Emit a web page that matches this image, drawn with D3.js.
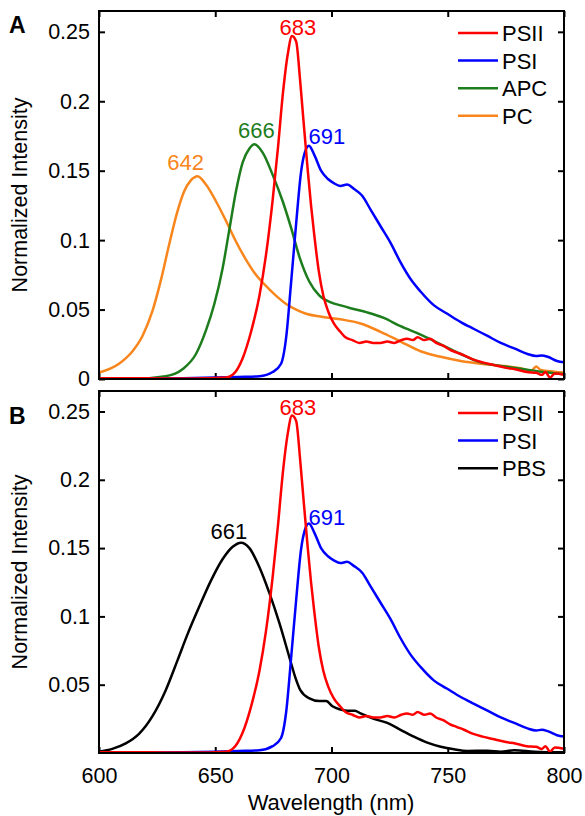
<!DOCTYPE html>
<html><head><meta charset="utf-8">
<script src="https://cdn.jsdelivr.net/npm/d3@7"></script>
<style>
html,body{margin:0;padding:0;background:#fff;}
svg text{font-family:"Liberation Sans",Arial,sans-serif;}
</style></head>
<body><svg id="chart" width="585" height="816"></svg>
<script>
// ---------- data (wavelength nm, normalized intensity) ----------
const psii = [[600,0.0005],[620,0.0005],[640,0.0003],[654.6,0.001],[657.5,0.003],[661.8,0.015],[665.4,0.034],[669,0.060],[671.8,0.089],[674.7,0.129],[677,0.167],[679,0.204],[681.2,0.234],[683,0.247],[684.8,0.243],[686.5,0.215],[688,0.185],[689.8,0.150],[691.2,0.125],[692.5,0.105],[694.5,0.078],[696.5,0.060],[698.5,0.049],[701,0.040],[703.8,0.034],[706,0.030],[709,0.028],[712,0.026],[715,0.027],[718,0.026],[721,0.026],[724,0.027],[727,0.026],[730,0.028],[732.5,0.029],[735,0.028],[737,0.030],[740,0.028],[742.5,0.029],[745,0.026],[748,0.024],[751,0.021],[754,0.019],[757,0.017],[761,0.014],[765,0.012],[770,0.010],[775,0.008],[779,0.007],[784,0.005],[788,0.0045],[790.5,0.003],[792,0.005],[794,0.001],[796,0.004],[800,0.003]];
const psi = [[600,0],[636,0.0005],[650,0.001],[660,0.0015],[669,0.002],[674.7,0.005],[678.3,0.011],[680.5,0.030],[682.6,0.069],[684.8,0.112],[686.9,0.149],[688.5,0.163],[690.3,0.168],[692.7,0.161],[695.5,0.150],[698.5,0.144],[701,0.141],[703.8,0.139],[706.7,0.140],[709.6,0.137],[713.2,0.132],[716.8,0.122],[721.1,0.110],[725.4,0.098],[729.7,0.084],[734,0.072],[738.3,0.063],[744.1,0.053],[749.8,0.047],[755.6,0.041],[761.3,0.036],[767.1,0.031],[772.8,0.026],[778.6,0.022],[784.3,0.018],[788,0.0165],[790.5,0.017],[793,0.016],[797,0.013],[800,0.012]];
const apc = [[600,0],[614,0],[628.7,0.002],[635.9,0.007],[641.7,0.018],[646,0.035],[649.6,0.054],[653.2,0.080],[656,0.107],[658.9,0.135],[661.8,0.156],[664.7,0.166],[666.8,0.169],[670.4,0.163],[674.7,0.147],[679,0.128],[682.6,0.109],[686.2,0.088],[690.5,0.070],[694.8,0.060],[700,0.055],[704,0.053],[708.2,0.051],[715.3,0.048],[722.5,0.044],[729.7,0.038],[738.3,0.032],[747,0.025],[755.6,0.018],[764.2,0.012],[772.8,0.0094],[781.4,0.0074],[790,0.0053],[800,0.0036]];
const pc = [[600,0.0046],[608.6,0.011],[614.4,0.020],[618.7,0.031],[623,0.049],[626.6,0.071],[630.2,0.097],[633.8,0.121],[636.6,0.135],[639.5,0.143],[642.4,0.146],[646,0.140],[650.3,0.128],[654.6,0.114],[658.9,0.099],[663.2,0.086],[667.5,0.075],[671.8,0.067],[676.1,0.060],[680.5,0.054],[684.8,0.050],[689.1,0.047],[695.2,0.045],[703.8,0.043],[712.5,0.040],[721.1,0.034],[729.7,0.027],[738.3,0.020],[747,0.016],[755.6,0.013],[764.2,0.011],[772.8,0.0096],[781.4,0.0077],[786,0.006],[788,0.009],[790,0.0065],[795.8,0.0053],[800,0.0046]];
const pbs = [[600,0.001],[605.7,0.003],[611.5,0.007],[617.2,0.014],[623,0.027],[628.7,0.046],[633.8,0.068],[638.1,0.087],[643.1,0.107],[648.1,0.126],[653.2,0.142],[657.5,0.151],[661.1,0.154],[664.7,0.150],[669,0.136],[673.3,0.117],[677.6,0.095],[681.9,0.070],[684.5,0.055],[686.6,0.046],[690.5,0.040],[694.8,0.038],[697.7,0.038],[700.6,0.034],[703.4,0.032],[706.7,0.031],[710,0.031],[712.5,0.029],[718.2,0.025],[724,0.022],[729.7,0.017],[735.4,0.012],[741.2,0.0076],[747,0.0046],[752.7,0.0027],[758.4,0.0015],[767.1,0.0017],[772.8,0.001],[778.6,0.002],[787.2,0.001],[800,0.0005]];

const seriesNamesA = ["PSII","PSI","APC","PC"];
const seriesNamesB = ["PSII","PSI","PBS"];
const peakLabelsA = ["683","691","666","642"];
const peakLabelsB = ["683","691","661"];
const xTicks = [600,650,700,750,800];
const yTicksA = [0,0.05,0.1,0.15,0.2,0.25];
const yTicksB = [0.05,0.1,0.15,0.2,0.25];
const xDomain = [600,800];
const yDomain = [0,0.265];

// ---------- styles ----------
const dataByName = {PSII:psii, PSI:psi, APC:apc, PC:pc, PBS:pbs};
const colorByName = {PSII:"#ff0000", PSI:"#0000ff", APC:"#1d7d1d", PC:"#f8861c", PBS:"#000000"};
// label offsets relative to peak point (px)
const labelOffset = {
  "A683":{dx:6,dy:-1,anchor:"middle"}, "A691":{dx:-2,dy:-2,anchor:"start"},
  "A666":{dx:4,dy:-6,anchor:"middle"}, "A642":{dx:-11,dy:-6,anchor:"middle"},
  "B683":{dx:6,dy:-1,anchor:"middle"}, "B691":{dx:-2,dy:1,anchor:"start"},
  "B661":{dx:-12,dy:-4,anchor:"middle"}
};

const svg = d3.select("#chart");
const FS = 21.5;

function panel(cfg){
  const {left,right,top,bottom,names,peaks,yTicks,showX,tag,letterY} = cfg;
  const x = d3.scaleLinear().domain(xDomain).range([left,right]);
  const y = d3.scaleLinear().domain(yDomain).range([bottom,top]);
  const g = svg.append("g");

  const ax = g.append("g").attr("transform",`translate(0,${bottom})`)
    .call(d3.axisBottom(x).tickValues(xTicks).tickSizeInner(-6).tickSizeOuter(0).tickPadding(10)
      .tickFormat(showX ? d3.format("d") : ""));
  const axT = g.append("g").attr("transform",`translate(0,${top})`)
    .call(d3.axisTop(x).tickValues(xTicks).tickSizeInner(-6).tickSizeOuter(0).tickFormat(""));
  const ay = g.append("g").attr("transform",`translate(${left},0)`)
    .call(d3.axisLeft(y).tickValues(yTicks).tickSizeInner(-6).tickSizeOuter(0).tickPadding(9)
      .tickFormat(d=> d===0 ? "0" : d3.format("")(+d.toFixed(2))));
  const ayR = g.append("g").attr("transform",`translate(${right},0)`)
    .call(d3.axisRight(y).tickValues(yTicks).tickSizeInner(-6).tickSizeOuter(0).tickFormat(""));
  [ax,axT,ay,ayR].forEach(a=>{
    a.select(".domain").remove();
    a.selectAll("line").attr("stroke","#000").attr("stroke-width",2);
    a.selectAll("text").attr("font-size",FS).attr("fill","#000")
      .attr("font-family","'Liberation Sans',Arial,sans-serif");
  });
  if(showX) ax.selectAll("text").attr("dy","0.95em");

  const line = d3.line().x(d=>x(d[0])).y(d=>y(d[1])).curve(d3.curveMonotoneX);
  const clipId = "clip"+tag;
  g.append("clipPath").attr("id",clipId).append("rect")
    .attr("x",left).attr("y",top).attr("width",right-left).attr("height",bottom-top);
  const order = names.slice().reverse();
  g.append("g").attr("clip-path",`url(#${clipId})`).selectAll("path").data(order).join("path")
    .attr("d",n=>line(dataByName[n])).attr("fill","none")
    .attr("stroke",n=>colorByName[n]).attr("stroke-width",2.5).attr("stroke-linejoin","round");

  peaks.forEach((p,i)=>{
    const n = names[i];
    const pk = dataByName[n].reduce((a,b)=> b[1]>a[1]?b:a);
    const o = labelOffset[tag+p];
    g.append("text").attr("x",x(+p)+o.dx).attr("y",y(pk[1])+o.dy)
      .attr("text-anchor",o.anchor).attr("font-size",FS+0.5).attr("fill",colorByName[n]).text(p);
  });

  const lg = g.append("g");
  names.forEach((n,i)=>{
    const ly = top + 22 + i*27.6;
    lg.append("line").attr("x1",458).attr("x2",498).attr("y1",ly).attr("y2",ly)
      .attr("stroke",colorByName[n]).attr("stroke-width",2.5);
    lg.append("text").attr("x",502).attr("y",ly).attr("dy","0.36em")
      .attr("font-size",FS+0.5).attr("fill","#000").text(n);
  });

  g.append("rect").attr("x",left).attr("y",top).attr("width",right-left).attr("height",bottom-top)
    .attr("fill","none").attr("stroke","#000").attr("stroke-width",2);

  g.append("text").attr("transform",`translate(27,${(top+bottom)/2}) rotate(-90)`)
    .attr("text-anchor","middle").attr("font-size",FS).attr("fill","#000").text("Normalized Intensity");

  g.append("text").attr("x",9).attr("y",letterY).attr("font-size",23).attr("font-weight","bold")
    .attr("fill","#000").text(tag);
  return x;
}

panel({left:99,right:564,top:11,bottom:379,names:seriesNamesA,peaks:peakLabelsA,yTicks:yTicksA,showX:false,tag:"A",letterY:33});
panel({left:99,right:564,top:391,bottom:753,names:seriesNamesB,peaks:peakLabelsB,yTicks:yTicksB,showX:true,tag:"B",letterY:424});

svg.append("text").attr("x",331).attr("y",810).attr("text-anchor","middle")
  .attr("font-size",FS+0.5).attr("fill","#000").text("Wavelength (nm)");
</script></body></html>
